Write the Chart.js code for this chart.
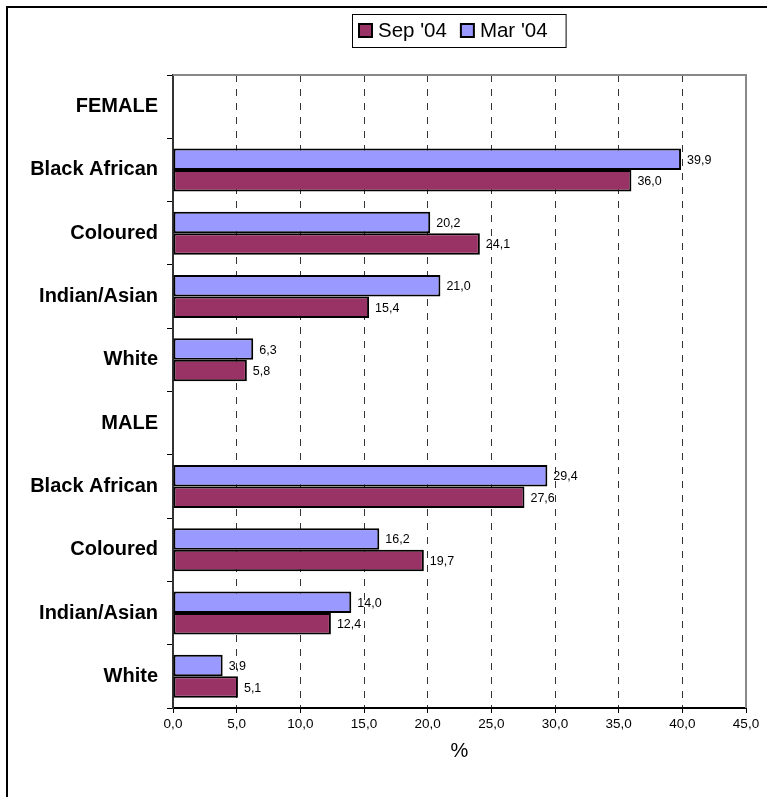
<!DOCTYPE html>
<html>
<head>
<meta charset="utf-8">
<script src="https://cdn.jsdelivr.net/npm/chart.js@4"></script>
<style>
  html, body { margin: 0; padding: 0; background: #fff; }
  #chart { display: block; }
</style>
</head>
<body>
<canvas id="chart" width="767" height="797"></canvas>
<script>
const categories = ["FEMALE", "Black African", "Coloured", "Indian/Asian", "White",
                    "MALE", "Black African", "Coloured", "Indian/Asian", "White"];
const mar04 = [null, 39.9, 20.2, 21.0, 6.3, null, 29.4, 16.2, 14.0, 3.9];
const sep04 = [null, 36.0, 24.1, 15.4, 5.8, null, 27.6, 19.7, 12.4, 5.1];
const xMin = 0;
const xMax = 45;
const xStep = 5;

const FONT = "'Liberation Sans', Arial, sans-serif";
const fmt = v => v.toFixed(1).replace(".", ",");

// white page + outer frame (only left and top edges are inside the picture)
const framePlugin = {
  id: "frame",
  beforeDraw(chart) {
    const ctx = chart.ctx;
    ctx.save();
    ctx.fillStyle = "#fff";
    ctx.fillRect(0, 0, chart.width, chart.height);
    ctx.strokeStyle = "#000";
    ctx.lineWidth = 2;
    ctx.strokeRect(7, 7, chart.width + 20, chart.height + 20);
    ctx.restore();
  },
  beforeDatasetsDraw(chart) {
    const { ctx, chartArea: a } = chart;
    ctx.save();
    ctx.strokeStyle = "#888";
    ctx.lineWidth = 2;
    ctx.beginPath();
    ctx.moveTo(a.left, a.top);
    ctx.lineTo(a.right, a.top);
    ctx.lineTo(a.right, a.bottom);
    ctx.stroke();
    ctx.restore();
  }
};

// value labels right of each bar
const valueLabels = {
  id: "valueLabels",
  afterDatasetsDraw(chart) {
    const ctx = chart.ctx;
    ctx.save();
    ctx.font = "12.5px " + FONT;
    ctx.fillStyle = "#000";
    ctx.textBaseline = "middle";
    ctx.textAlign = "left";
    chart.data.datasets.forEach((ds, i) => {
      chart.getDatasetMeta(i).data.forEach((bar, j) => {
        const v = ds.data[j];
        if (v == null) return;
        ctx.fillText(fmt(v), bar.x + 6, bar.y + 1);
      });
    });
    ctx.restore();
  }
};

// boxed legend, Sep '04 first
const boxLegend = {
  id: "boxLegend",
  afterDraw(chart) {
    const ctx = chart.ctx;
    const items = chart.data.datasets.slice().reverse();
    const left = 352, top = 14, h = 33, sq = 13;
    ctx.save();
    ctx.font = "20.5px " + FONT;
    ctx.textBaseline = "middle";
    let x = left + 7;
    const cy = top + h / 2;
    const pos = items.map(ds => {
      const p = { ds, x };
      x += sq + 6 + ctx.measureText(ds.label).width + 14;
      return p;
    });
    const right = x - 14 + 18;
    ctx.fillStyle = "#fff";
    ctx.fillRect(left, top, right - left, h);
    ctx.strokeStyle = "#000";
    ctx.lineWidth = 1;
    ctx.strokeRect(left + 0.5, top + 0.5, right - left, h);
    pos.forEach(p => {
      ctx.fillStyle = p.ds.backgroundColor;
      ctx.fillRect(p.x, cy - sq / 2, sq, sq);
      ctx.lineWidth = 2;
      ctx.strokeRect(p.x, cy - sq / 2, sq, sq);
      ctx.fillStyle = "#000";
      ctx.fillText(p.ds.label, p.x + sq + 6, cy + 1);
    });
    ctx.restore();
  }
};

new Chart(document.getElementById("chart"), {
  type: "bar",
  data: {
    labels: categories,
    datasets: [
      {
        label: "Mar '04",
        data: mar04,
        backgroundColor: "#9999FF",
        borderColor: "#000",
        borderWidth: 2,
        borderSkipped: false,
      },
      {
        label: "Sep '04",
        data: sep04,
        backgroundColor: "#993366",
        borderColor: "#000",
        borderWidth: 2,
        borderSkipped: false,
      },
    ],
  },
  options: {
    indexAxis: "y",
    responsive: false,
    animation: false,
    events: [],
    datasets: {
      bar: { categoryPercentage: 0.68, barPercentage: 1.0 },
    },
    layout: { padding: { top: 75, right: 21, bottom: 34, left: 0 } },
    scales: {
      x: {
        min: xMin,
        max: xMax,
        afterFit: scale => { scale.height = 55; },
        ticks: {
          stepSize: xStep,
          color: "#000",
          font: { family: FONT, size: 13.5 },
          padding: 3,
          maxRotation: 0,
          callback: v => fmt(v),
        },
        grid: {
          color: "#333",
          lineWidth: 1,
          tickLength: 5,
          tickColor: "#000",
          tickWidth: 1,
          tickBorderDash: [],
        },
        border: { color: "#000", width: 2, dash: [7, 7] },
        title: {
          display: true,
          text: "%",
          color: "#000",
          font: { family: FONT, size: 20 },
          padding: 0,
        },
      },
      y: {
        afterFit: scale => { scale.width = 173; },
        ticks: {
          color: "#000",
          autoSkip: false,
          padding: 9,
          font: { family: FONT, size: 20, weight: "bold" },
        },
        grid: {
          drawOnChartArea: false,
          tickLength: 6,
          tickColor: "#000",
          tickWidth: 1,
        },
        border: { color: "#333", width: 2 },
      },
    },
    plugins: {
      legend: { display: false },
      tooltip: { enabled: false },
    },
  },
  plugins: [framePlugin, valueLabels, boxLegend],
});
</script>
</body>
</html>
